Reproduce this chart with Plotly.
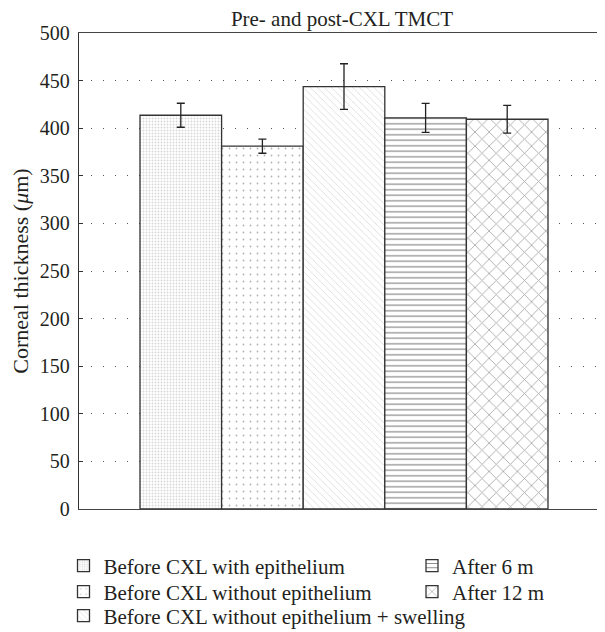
import plotly.graph_objects as go

categories = ["Before CXL with epithelium", "Before CXL without epithelium",
              "Before CXL without epithelium + swelling", "After 6 m", "After 12 m"]
values = [413.6, 381.1, 443.7, 410.9, 409.4]
errors = [12.6, 7.4, 24.0, 15.2, 14.5]
y_ticks = [0, 50, 100, 150, 200, 250, 300, 350, 400, 450, 500]

patterns = [
    dict(shape=".", size=3, solidity=0.3, fgcolor="#b0b0b0", bgcolor="white"),
    dict(shape=".", size=7, solidity=0.05, fgcolor="#666666", bgcolor="white"),
    dict(shape="\\", size=5, solidity=0.12, fgcolor="#999999", bgcolor="white"),
    dict(shape="-", size=5.5, solidity=0.2, fgcolor="#000000", bgcolor="white"),
    dict(shape="x", size=10, solidity=0.17, fgcolor="#555555", bgcolor="white"),
]

FONT = "Liberation Serif"
TXT = "#231f20"
W, H = 597, 624
L, R, T, B = 71, 0, 24.5, 123
PW, PH = W - L - R, H - T - B

# legend placement (figure pixels): text left edge and row centre
leg_pos = [(96, 558), (96, 584), (96, 608), (444.5, 558), (444.5, 584)]
legend_names = ["legend", "legend2", "legend3", "legend4", "legend5"]

fig = go.Figure()
for i, (c, v, e) in enumerate(zip(categories, values, errors)):
    fig.add_trace(go.Bar(
        x=[i], y=[v], name=c, width=1, showlegend=True,
        marker=dict(color="white", pattern=patterns[i],
                    line=dict(color="#333333", width=1.3)),
        error_y=dict(type="data", array=[e], color="#222222", thickness=1.3, width=4),
        legend=legend_names[i],
    ))

legends = {}
for name, (tx, ty) in zip(legend_names, leg_pos):
    legends[name] = dict(
        x=(tx - 40.5 - L) / PW, xanchor="left",
        y=(H - B - ty) / PH, yanchor="middle",
        orientation="v", font=dict(family=FONT, size=21, color=TXT),
        itemwidth=30, bgcolor="rgba(0,0,0,0)", borderwidth=0,
    )

fig.update_layout(
    width=W, height=H, showlegend=True,
    margin=dict(l=L, r=R, t=T, b=B, autoexpand=False),
    plot_bgcolor="white", paper_bgcolor="white",
    barmode="overlay",
    font=dict(family=FONT, size=20, color=TXT),
    title=dict(text="Pre- and post-CXL TMCT", x=(L + W) / 2 / W, xref="container",
               xanchor="center", y=1 - 10.5 / H, yref="container", yanchor="middle",
               font=dict(family=FONT, size=21, color=TXT)),
    xaxis=dict(range=[-1.2475, 5.1985], showticklabels=False, ticks="", showgrid=False,
               showline=True, mirror=True, linecolor="#444444", linewidth=1.3, zeroline=False),
    yaxis=dict(range=[0, 500], tickvals=y_ticks, ticks="inside", ticklen=4,
               tickcolor="#333333", showline=True, linecolor="#333333", linewidth=1.3,
               showgrid=True, gridcolor="#555555", griddash="1px,11px", gridwidth=1,
               zeroline=False, ticklabelstandoff=4,
               tickfont=dict(family=FONT, size=20, color=TXT),
               title=dict(text="Corneal thickness (<i>μ</i>m)",
                          font=dict(family=FONT, size=22, color=TXT))),
    **legends,
)

fig.write_html("out.html")
